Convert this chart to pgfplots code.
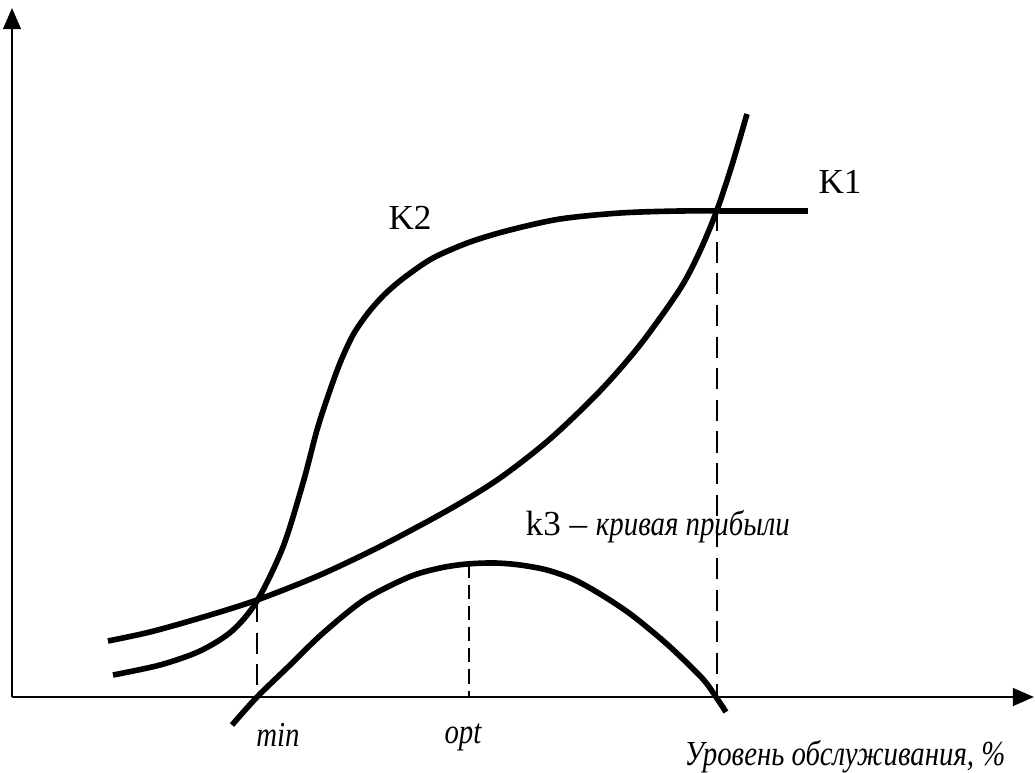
\documentclass[border=0pt]{standalone}
\usepackage{fontspec}
\setmainfont{Liberation Serif}[ItalicFont={Liberation Serif Italic}]
\usepackage{graphicx}
\usepackage{pgfplots}
\pgfplotsset{compat=1.18}
\usetikzlibrary{arrows.meta}
\newcommand{\iti}[1]{\scalebox{0.82}[1]{\itshape #1}}
\begin{document}
\begin{tikzpicture}
\begin{axis}[
  scale only axis, width=10.35cm, height=7.73cm,
  xmin=0, xmax=1035, ymin=0, ymax=773, y dir=reverse,
  axis lines=none, clip=false,
  every node/.style={font=\fontsize{8.3}{10}\selectfont},
]
\coordinate (BL) at (axis cs:0,773);
\coordinate (TR) at (axis cs:1035,0);
% axes
\addplot[black, line width=0.75pt, -{Triangle[length=6pt,width=5pt]}] coordinates {(12,697) (12,8)};
\addplot[black, line width=0.75pt, -{Triangle[length=6pt,width=5pt]}] coordinates {(12,697) (1034,697)};
% K1
\addplot[black, line width=1.6pt, smooth] coordinates {
(108,641) (150,632) (200,618) (257,600) (320,575) (383,545) (450,509) (500,478) (550,439) (600,391) (640,345) (680,289) (700,251) (717,210) (732,165) (747,114)};
% K2
\addplot[black, line width=1.6pt, smooth] coordinates {
(113,675) (160,665) (200,651) (232,631) (257,601) (283,547) (303,483) (317,430) (328,396) (340,363) (353,335) (368,313) (385,294) (405,277) (433,258) (470,242) (510,230) (560,219) (620,213) (680,211) (740,211) (808,211)};
% K3
\addplot[black, line width=1.6pt, smooth] coordinates {
(232,725) (257,697) (288,667) (322,634) (364,600) (409,577) (440,568) (467,564) (495,563) (520,565) (547,570) (575,580) (605,597) (633,616) (668,645) (702,678) (716,697) (726,712)};
% dashed guides
\addplot[black, line width=0.45pt, dash pattern=on 6pt off 3pt] coordinates {(257,601) (257,697)};
\addplot[black, line width=0.45pt, dash pattern=on 4pt off 2pt] coordinates {(469,564) (469,697)};
\addplot[black, line width=0.45pt, dash pattern=on 6pt off 3pt] coordinates {(717,210) (717,697)};
% labels
\node at (axis cs:410,218) {K2};
\node at (axis cs:840,182) {K1};
\node[anchor=west, inner sep=0pt] at (axis cs:525,527) {k3 – \iti{кривая прибыли}};
\node at (axis cs:278,735) {\iti{min}};
\node at (axis cs:463,737) {\iti{opt}};
\node at (axis cs:845,757) {\iti{Уровень обслуживания, \%}};
\end{axis}
\pgfresetboundingbox
\path (BL) rectangle (TR);
\end{tikzpicture}
\end{document}
